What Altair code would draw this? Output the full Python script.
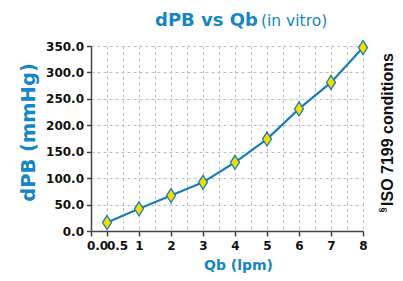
import altair as alt
import pandas as pd

qb_labels = ["0.5", "1", "2", "3", "4", "5", "6", "7", "8"]
dpb_values = [16, 42, 67, 92, 130, 174, 231, 281, 347]
y_ticks = [0, 50, 100, 150, 200, 250, 300, 350]

df = pd.DataFrame({
    "pos": list(range(1, len(qb_labels) + 1)),
    "qb": qb_labels,
    "dpb": dpb_values,
})

BLUE_TXT = "#1686c4"
BLUE_LINE = "#1a7db8"
YELLOW = "#f7dc00"
FONT = "DejaVu Sans"

x_vals = [0.5 + 0.5 * i for i in range(18)]
label_map = " : ".join(
    "datum.value == %d ? '%s'" % (i + 1, s) for i, s in enumerate(qb_labels)
)
label_expr = "datum.value == 0.5 ? '0.0' : " + label_map + " : ''"

x_enc = alt.X(
    "pos:Q",
    scale=alt.Scale(domain=[0.5, 9], nice=False, zero=False),
    axis=alt.Axis(
        values=x_vals,
        labelExpr=label_expr,
        title="Qb (lpm)",
        grid=True,
        gridDash=[3, 3],
        gridColor="#bdbdbd",
        gridWidth=1,
        domainColor="#444444",
        domainWidth=1.5,
        tickColor="#444444",
        tickWidth=1.5,
        tickSize=5,
        tickOpacity={"condition": {"test": "datum.value % 1 != 0 && datum.value != 0.5", "value": 0}, "value": 1},
        labelOffset={"condition": [{"test": "datum.value == 0.5", "value": 6},
                                   {"test": "datum.value == 1", "value": 10}], "value": 0},
        labelFont=FONT,
        labelFontSize=12,
        labelFontWeight="bold",
        labelColor="#111111",
        labelPadding=4,
        labelOverlap=False,
        labelFlush=False,
        labelBound=False,
        titleFont=FONT,
        titleFontSize=14,
        titleFontWeight="bold",
        titleColor=BLUE_TXT,
        titleX=147,
        titleY=38,
        titleBaseline="alphabetic",
    ),
)

y_enc = alt.Y(
    "dpb:Q",
    scale=alt.Scale(domain=[0, 350], nice=False),
    axis=alt.Axis(
        values=y_ticks,
        format=".1f",
        title="dPB (mmHg)",
        grid=True,
        gridDash=[3, 3],
        gridColor="#bdbdbd",
        gridWidth=1,
        domainColor="#444444",
        domainWidth=1.5,
        tickColor="#444444",
        tickWidth=1.5,
        tickSize=4.5,
        labelFont=FONT,
        labelFontSize=12,
        labelFontWeight="bold",
        labelColor="#111111",
        labelPadding=3,
        labelOverlap=False,
        titleFont=FONT,
        titleFontSize=19.5,
        titleFontWeight="bold",
        titleColor=BLUE_TXT,
        titleX=-57,
        titleY=86,
        titleAlign="center",
        titleBaseline="alphabetic",
    ),
)

base = alt.Chart(df).encode(x=x_enc, y=y_enc)
line = base.mark_line(color=BLUE_LINE, strokeWidth=2.2)
points = base.mark_point(
    shape="M0,-1.4L0.9,0L0,1.4L-0.9,0Z",
    filled=True,
    fill=YELLOW,
    stroke=BLUE_LINE,
    strokeWidth=1.3,
    size=100,
    opacity=1,
)

title = alt.Chart(pd.DataFrame({"t": ["dPB vs Qb"]})).mark_text(
    font=FONT, fontSize=18, fontWeight="bold", color=BLUE_TXT,
    align="left", baseline="alphabetic"
).encode(text="t:N", x=alt.value(64), y=alt.value(-20))

sub = alt.Chart(pd.DataFrame({"t": ["(in vitro)"]})).mark_text(
    font=FONT, fontSize=15.5, color=BLUE_TXT, align="left", baseline="alphabetic"
).encode(text="t:N", x=alt.value(170), y=alt.value(-20))

note = alt.Chart(pd.DataFrame({"t": ["ISO 7199 conditions"]})).mark_text(
    font="Liberation Sans", fontSize=16, fontWeight="bold", color="#111111",
    angle=270, align="center", baseline="alphabetic"
).encode(text="t:N", x=alt.value(302), y=alt.value(83.5))

sect = alt.Chart(pd.DataFrame({"t": ["§"]})).mark_text(
    font="Liberation Sans", fontSize=9, fontWeight="bold", color="#111111",
    angle=270, align="center", baseline="alphabetic"
).encode(text="t:N", x=alt.value(294), y=alt.value(164))

chart = alt.layer(line, points, title, sub, note, sect).properties(
    width=272,
    height=185,
    autosize=alt.AutoSizeParams(type="none"),
    padding={"left": 83, "top": 38, "right": 32, "bottom": 42},
).configure_view(stroke=None)

chart.save("out.html", embed_options={"renderer": "svg", "actions": False})
